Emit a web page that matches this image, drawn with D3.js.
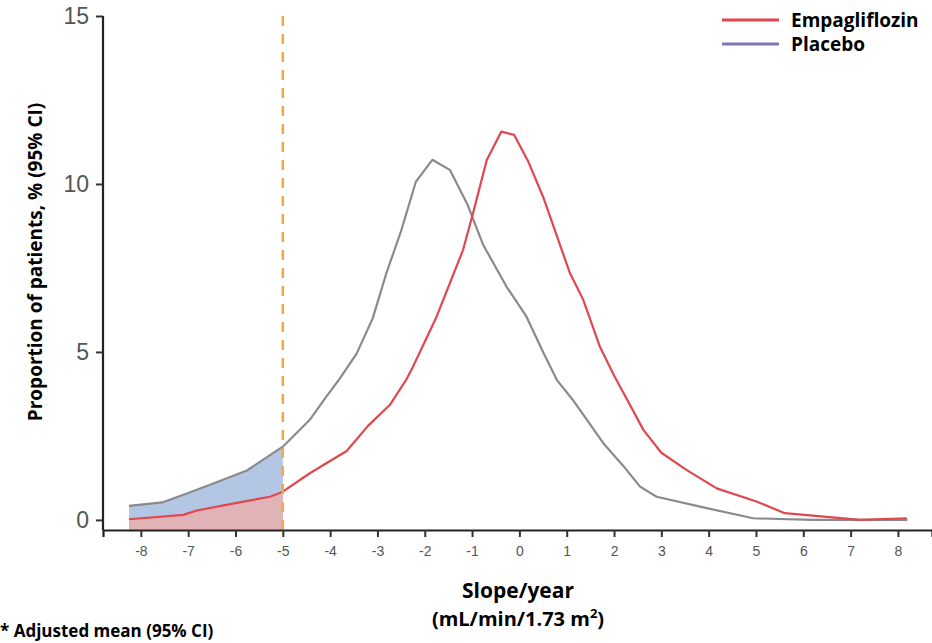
<!DOCTYPE html>
<html>
  <head>
    <meta charset="utf-8">
    <style>
      body { margin: 0; background: #fff; }
      text { font-family: "Liberation Sans", Arial, sans-serif; }
      .bold { font-family: "Open Sans", sans-serif; font-weight: bold; }
    </style>
  </head>
  <body>
    <svg width="932" height="643"></svg>
    <script src="https://d3js.org/d3.v7.min.js"></script>
    <script>
      // slope/year (x) vs proportion of patients % (y)
      var placeboX = [-8.25, -7.55, -7.0, -6.4, -5.76, -5.0, -4.43, -4.08, -3.8, -3.44, -3.1, -2.81, -2.5, -2.19, -1.84, -1.47, -1.1, -0.77, -0.27, 0.15, 0.5, 0.79, 1.13, 1.77, 2.2, 2.55, 2.9, 3.96, 4.94, 6.2, 8.2];
      var placeboY = [0.42, 0.52, 0.8, 1.12, 1.47, 2.18, 2.98, 3.67, 4.2, 4.95, 6.0, 7.35, 8.6, 10.06, 10.72, 10.42, 9.4, 8.2, 6.94, 6.05, 5.0, 4.17, 3.57, 2.29, 1.6, 0.99, 0.69, 0.35, 0.05, 0.0, 0.0];

      var empaX = [-8.25, -7.1, -6.82, -6.0, -5.27, -5.0, -4.43, -3.65, -3.2, -2.74, -2.38, -2.25, -1.75, -1.19, -0.98, -0.69, -0.38, -0.11, 0.19, 0.5, 1.07, 1.35, 1.7, 2.0, 2.27, 2.62, 3.0, 3.53, 4.17, 5.01, 5.61, 7.2, 8.19];
      var empaY = [0.02, 0.15, 0.28, 0.5, 0.69, 0.84, 1.39, 2.05, 2.8, 3.42, 4.2, 4.56, 6.05, 8.04, 9.13, 10.71, 11.56, 11.46, 10.66, 9.62, 7.34, 6.55, 5.16, 4.3, 3.6, 2.68, 2.0, 1.49, 0.94, 0.55, 0.2, 0.0, 0.05];

      var xTicks = [-8, -7, -6, -5, -4, -3, -2, -1, 0, 1, 2, 3, 4, 5, 6, 7, 8];
      var yTicks = [0, 5, 10, 15];
      var cutoff = -5;

      var seriesNames = ["Empagliflozin", "Placebo"];
      var seriesColors = ["#e0474f", "#7b78b4"];

      var svg = d3.select("svg");

      var x = d3.scaleLinear().domain([-8.8, 8.72]).range([103, 932]);
      var y = d3.scaleLinear().domain([-0.3, 15]).range([530, 16]);

      var placebo = placeboX.map(function(d, i) { return { x: d, y: placeboY[i] }; });
      var empa = empaX.map(function(d, i) { return { x: d, y: empaY[i] }; });

      var area = d3.area()
        .x(function(d) { return x(d.x); })
        .y0(y(-0.3))
        .y1(function(d) { return y(d.y); });

      var line = d3.line()
        .x(function(d) { return x(d.x); })
        .y(function(d) { return y(d.y); });

      // shaded tails left of the cutoff
      svg.append("path")
        .datum(placebo.filter(function(d) { return d.x <= cutoff; }))
        .attr("d", area)
        .attr("fill", "#b3c6e3");

      svg.append("path")
        .datum(empa.filter(function(d) { return d.x <= cutoff; }))
        .attr("d", area)
        .attr("fill", "#e2b3b6");

      svg.append("path")
        .datum(placebo)
        .attr("d", line)
        .attr("fill", "none")
        .attr("stroke", "#8a8a8a")
        .attr("stroke-width", 2.2)
        .attr("stroke-linejoin", "round");

      svg.append("path")
        .datum(empa)
        .attr("d", line)
        .attr("fill", "none")
        .attr("stroke", "#e0474f")
        .attr("stroke-width", 2.2)
        .attr("stroke-linejoin", "round");

      // dashed cutoff line
      svg.append("line")
        .attr("x1", x(cutoff))
        .attr("x2", x(cutoff))
        .attr("y1", 16)
        .attr("y2", 530)
        .attr("stroke", "#f0aa4a")
        .attr("stroke-width", 2.5)
        .attr("stroke-dasharray", "10,8");

      // axes
      var xAxis = svg.append("g")
        .attr("transform", "translate(0,530)")
        .call(d3.axisBottom(x).tickValues(xTicks).tickSize(7).tickPadding(9)
          .tickFormat(function(d) { return String(d); }));
      xAxis.select(".domain").attr("stroke", "#222").attr("stroke-width", 2.2);
      xAxis.selectAll(".tick line").attr("stroke", "#333").attr("stroke-width", 2);
      xAxis.selectAll(".tick text")
        .attr("fill", "#555")
        .style("font-size", "14px")
        .style("font-family", "Liberation Sans, Arial, sans-serif");

      var yAxis = svg.append("g")
        .attr("transform", "translate(103,0)")
        .call(d3.axisLeft(y).tickValues(yTicks).tickSize(7).tickPadding(7));
      yAxis.select(".domain").attr("d", "M0," + y(15) + "V530").attr("stroke", "#222").attr("stroke-width", 2.2);
      yAxis.selectAll(".tick line").attr("stroke", "#333").attr("stroke-width", 2);
      yAxis.selectAll(".tick text")
        .attr("fill", "#555")
        .style("font-size", "23px")
        .style("font-family", "Liberation Sans, Arial, sans-serif");

      // axis titles
      svg.append("text")
        .attr("class", "bold")
        .attr("transform", "translate(42,262) rotate(-90)")
        .attr("text-anchor", "middle")
        .attr("font-size", "19px")
        .text("Proportion of patients, % (95% CI)");

      svg.append("text")
        .attr("class", "bold")
        .attr("x", 518)
        .attr("y", 598)
        .attr("text-anchor", "middle")
        .attr("font-size", "21px")
        .text("Slope/year");

      var t2 = svg.append("text")
        .attr("class", "bold")
        .attr("x", 518)
        .attr("y", 626)
        .attr("text-anchor", "middle")
        .attr("font-size", "20px");
      t2.append("tspan").text("(mL/min/1.73 m");
      t2.append("tspan").attr("font-size", "13px").attr("dy", -8).text("2");
      t2.append("tspan").attr("dy", 8).text(")");

      svg.append("text")
        .attr("class", "bold")
        .attr("x", 0)
        .attr("y", 637)
        .attr("font-size", "17px")
        .text("* Adjusted mean (95% CI)");

      // legend
      var legend = svg.append("g");
      seriesNames.forEach(function(name, i) {
        legend.append("line")
          .attr("x1", 722).attr("x2", 779)
          .attr("y1", 20 + i * 24).attr("y2", 20 + i * 24)
          .attr("stroke", seriesColors[i])
          .attr("stroke-width", 3);
        legend.append("text")
          .attr("class", "bold")
          .attr("x", 791)
          .attr("y", 27 + i * 24)
          .attr("font-size", "19px")
          .text(name);
      });
    </script>
  </body>
</html>
